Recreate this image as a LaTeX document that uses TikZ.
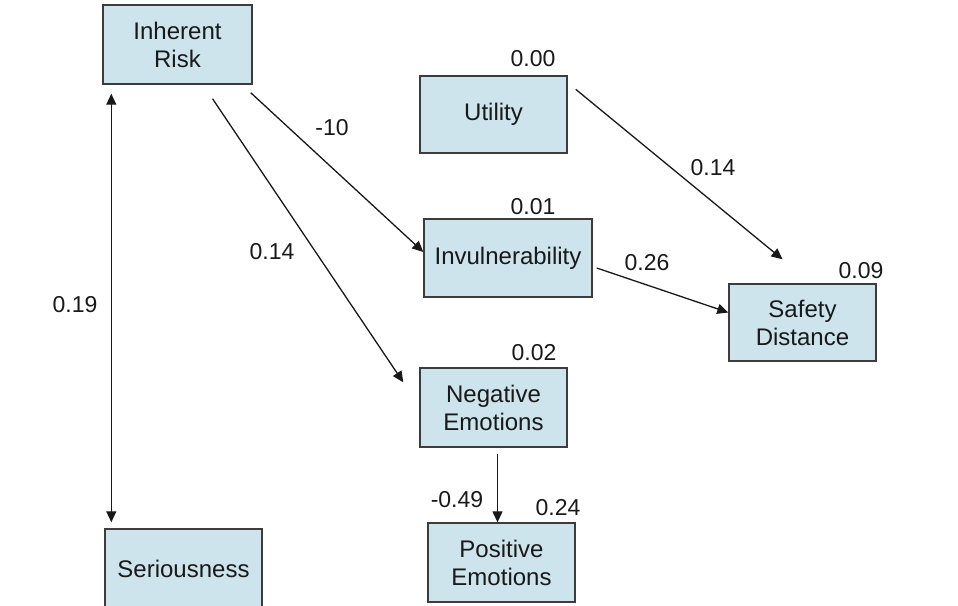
\documentclass[tikz,border=0pt]{standalone}
\usepackage{fontspec}
\setmainfont{Liberation Sans}
\usetikzlibrary{arrows.meta}
\definecolor{cBox}{RGB}{205,228,236}
\definecolor{cLine}{RGB}{60,60,60}
\definecolor{cText}{RGB}{25,25,25}

\begin{document}
\begin{tikzpicture}[x=1pt,y=-1pt,>={Triangle[length=11pt,width=10pt]},
  box/.style={draw=cLine,line width=1.4pt,fill=cBox,inner sep=0pt,align=center,
    text=cText,font=\fontsize{24}{28}\selectfont},
  lbl/.style={inner sep=0pt,text=cText,font=\fontsize{23}{27}\selectfont},
  arr/.style={->,line width=1.3pt,draw=cText}]
  \clip (0,0) rectangle (958,605);
  % Boxes
  \node[box,minimum width=149pt,minimum height=79pt] (risk) at (177.5,44.5) {Inherent\\Risk};
  \node[box,minimum width=157pt,minimum height=79pt] (seri) at (183.5,568.5) {Seriousness};
  \node[box,minimum width=147pt,minimum height=77pt] (util) at (493.5,114.5) {Utility};
  \node[box,minimum width=168pt,minimum height=78pt] (invul) at (508,258) {Invulnerability};
  \node[box,minimum width=147pt,minimum height=77pt] (safety) at (802.5,322.5) {Safety\\Distance};
  \node[box,minimum width=147pt,minimum height=79pt] (neg) at (493.5,407.5) {Negative\\Emotions};
  \node[box,minimum width=147pt,minimum height=79pt] (pos) at (501.5,562.5) {Positive\\Emotions};
  % Paths
  \draw[arr] ([shift={(-2pt,-8pt)}]risk.south east) -- ([yshift=6pt]invul.west);
  \draw[arr] ([shift={(35pt,-14pt)}]risk.south) -- ([shift={(-16pt,-15pt)}]neg.north west);
  \draw[arr] ([shift={(8pt,-14pt)}]util.north east) -- ([shift={(-20pt,24pt)}]safety.north);
  \draw[arr] ([shift={(4pt,-10pt)}]invul.east) -- ([yshift=10pt]safety.west);
  \draw[arr] ([shift={(4pt,-6pt)}]neg.south) -- ([xshift=4pt]neg.south |- pos.north);
  \draw[arr,<->] ([shift={(9pt,-9pt)}]risk.south west) -- ([shift={(7pt,6pt)}]seri.north west);
  % Path coefficients
  \node[lbl] (cRiskInvul) at (332,128) {-10};
  \node[lbl] (cRiskNeg) at (272,252) {0.14};
  \node[lbl] (cUtilSafety) at (713,168) {0.14};
  \node[lbl] (cInvulSafety) at (647,263) {0.26};
  \node[lbl] (cRiskSeri) at (75,305) {0.19};
  \node[lbl] (cNegPos) at (457,500) {-0.49};
  % R-squared
  \node[lbl] (rUtil) at (533,59) {0.00};
  \node[lbl] (rInvul) at (533,207) {0.01};
  \node[lbl] (rNeg) at (534,353) {0.02};
  \node[lbl] (rSafety) at (861,271) {0.09};
  \node[lbl] (rPos) at (558,508) {0.24};
\end{tikzpicture}
\end{document}
